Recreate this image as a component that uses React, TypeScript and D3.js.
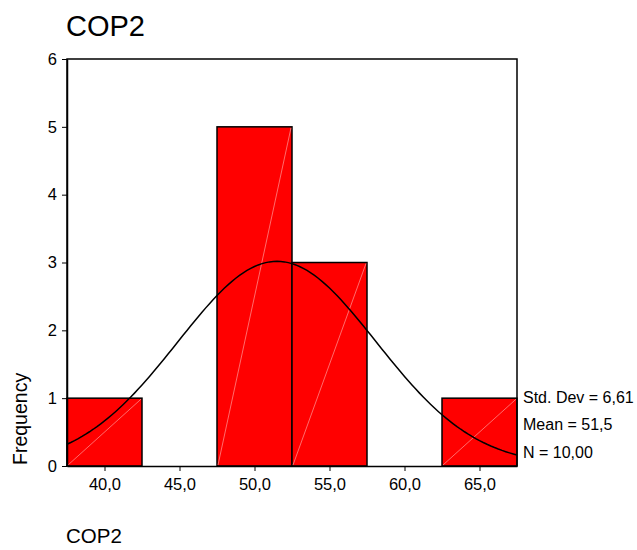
import React, { useEffect, useRef } from 'react';
import * as d3 from 'd3';

// histogram bins (lower edge, upper edge, count)
const binStarts = [37.5, 42.5, 47.5, 52.5, 57.5, 62.5];
const binEnds = [42.5, 47.5, 52.5, 57.5, 62.5, 67.5];
const counts = [1, 0, 5, 3, 0, 1];
const xTicks = [40, 45, 50, 55, 60, 65];
const yTicks = [0, 1, 2, 3, 4, 5, 6];
const statLabels = ['Std. Dev = 6,61', 'Mean = 51,5', 'N = 10,00'];
const stats = { mean: 51.5, sd: 6.61, n: 10, width: 5 };

const W = 637, H = 550;
const margin = { top: 59, right: 120, bottom: 84, left: 67 };

function App() {
    const ref = useRef<SVGSVGElement>(null);

    useEffect(() => {
        const svg = d3.select(ref.current);
        svg.selectAll('*').remove();
        const width = W - margin.left - margin.right;
        const height = H - margin.top - margin.bottom;
        const font = 'Arial, "Liberation Sans", sans-serif';

        const x = d3.scaleLinear().domain([37.5, 67.5]).range([0, 450]);
        const y = d3.scaleLinear().domain([0, 6]).range([height, 0]);

        svg.append('text')
            .attr('x', 66).attr('y', 36)
            .attr('font-family', font).attr('font-size', 29)
            .text('COP2');

        svg.append('text')
            .attr('x', 66).attr('y', 543)
            .attr('font-family', font).attr('font-size', 20.5)
            .text('COP2');

        svg.append('text')
            .attr('transform', 'translate(27,465) rotate(-90)')
            .attr('font-family', font).attr('font-size', 19.5)
            .text('Frequency');

        const g = svg.append('g')
            .attr('transform', `translate(${margin.left},${margin.top})`);

        // bars
        const bars = g.selectAll('.bar')
            .data(counts.map((c, i) => ({ c, x0: binStarts[i], x1: binEnds[i] })).filter(d => d.c > 0))
            .enter().append('g');

        bars.append('rect')
            .attr('x', d => x(d.x0))
            .attr('y', d => y(d.c))
            .attr('width', d => x(d.x1) - x(d.x0))
            .attr('height', d => height - y(d.c))
            .attr('fill', '#ff0000')
            .attr('stroke', '#000')
            .attr('stroke-width', 1.5);

        bars.append('line')
            .attr('x1', d => x(d.x0) + 1).attr('y1', height - 1)
            .attr('x2', d => x(d.x1) - 1).attr('y2', d => y(d.c) + 1)
            .attr('stroke', '#ff9a9a')
            .attr('stroke-width', 0.7);

        // normal curve from stats
        const peak = stats.n * stats.width / (stats.sd * Math.sqrt(2 * Math.PI));
        const pts = d3.range(37.5, 67.51, 0.25).map(v => [v, peak * Math.exp(-((v - stats.mean) ** 2) / (2 * stats.sd ** 2))]);
        g.append('path')
            .datum(pts)
            .attr('fill', 'none')
            .attr('stroke', '#000')
            .attr('stroke-width', 1.5)
            .attr('d', d3.line<number[]>().x(d => x(d[0])).y(d => y(d[1])));

        // frame
        g.append('path')
            .attr('d', `M0,${height}V0H${width}V${height}`)
            .attr('fill', 'none')
            .attr('stroke', '#000')
            .attr('stroke-width', 1.5);

        const xAxis = g.append('g')
            .attr('transform', `translate(0,${height})`)
            .call(d3.axisBottom(x).tickValues(xTicks).tickSize(5).tickSizeOuter(0)
                .tickFormat(d => d3.format('.1f')(d as number).replace('.', ',')));
        xAxis.select('.domain').attr('stroke-width', 1.5);
        xAxis.selectAll('text').attr('font-family', font).attr('font-size', 16.5)
            .attr('y', 24).attr('dy', null).attr('fill', '#000');

        const yAxis = g.append('g')
            .call(d3.axisLeft(y).tickValues(yTicks).tickSize(5).tickSizeOuter(0).tickFormat(d3.format('d')));
        yAxis.select('.domain').attr('stroke-width', 1.5);
        yAxis.selectAll('text').attr('font-family', font).attr('font-size', 16.5).attr('x', -10).attr('fill', '#000');

        g.selectAll('.stat')
            .data(statLabels)
            .enter().append('text')
            .attr('x', 523 - margin.left)
            .attr('y', (d, i) => [403, 430, 458][i] - margin.top)
            .attr('font-family', font).attr('font-size', 16)
            .text(d => d);
    }, []);

    return <svg ref={ref} width={W} height={H} style={{ display: 'block', position: 'absolute', left: 0, top: 0, background: '#fff' }} />;
}

export default App;
